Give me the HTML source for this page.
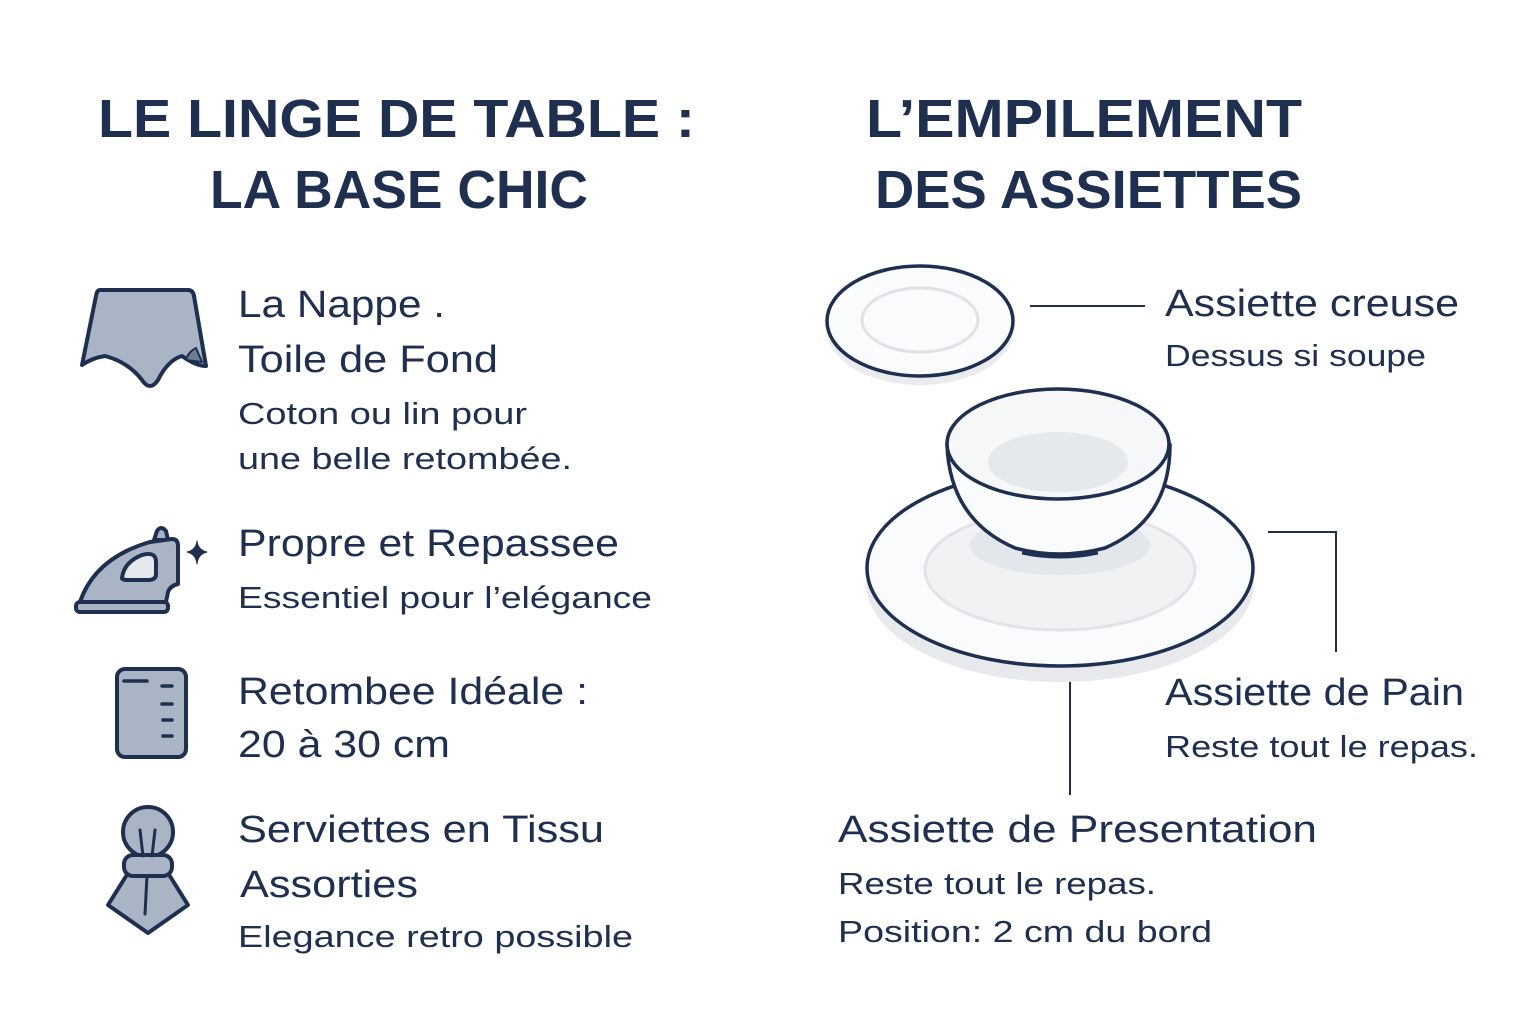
<!DOCTYPE html>
<html><head><meta charset="utf-8"><style>
html,body{margin:0;padding:0;background:#fff;}
svg{display:block;}
text{font-family:"Liberation Sans","DejaVu Sans",sans-serif;fill:#1e2f4f;}
.t{font-size:54px;font-weight:bold;}
.h{font-size:38px;}
.d{font-size:31px;}
</style></head><body>
<svg width="1536" height="1024" viewBox="0 0 1536 1024" xmlns="http://www.w3.org/2000/svg">
<rect width="1536" height="1024" fill="#fff"/>
<text class="t" x="98" y="137" textLength="597" lengthAdjust="spacingAndGlyphs">LE LINGE DE TABLE :</text>
<text class="t" x="210" y="208" textLength="378" lengthAdjust="spacingAndGlyphs">LA BASE CHIC</text>
<text class="t" x="866" y="137" textLength="436" lengthAdjust="spacingAndGlyphs">L’EMPILEMENT</text>
<text class="t" x="875" y="208" textLength="427" lengthAdjust="spacingAndGlyphs">DES ASSIETTES</text>

<text class="h" x="238" y="317" textLength="207" lengthAdjust="spacingAndGlyphs">La Nappe .</text>
<text class="h" x="238" y="372" textLength="260" lengthAdjust="spacingAndGlyphs">Toile de Fond</text>
<text class="d" x="238" y="424" textLength="289" lengthAdjust="spacingAndGlyphs">Coton ou lin pour</text>
<text class="d" x="238" y="469" textLength="334" lengthAdjust="spacingAndGlyphs">une belle retombée.</text>
<text class="h" x="238" y="556" textLength="381" lengthAdjust="spacingAndGlyphs">Propre et Repassee</text>
<text class="d" x="238" y="608" textLength="414" lengthAdjust="spacingAndGlyphs">Essentiel pour l’elégance</text>
<text class="h" x="238" y="704" textLength="350" lengthAdjust="spacingAndGlyphs">Retombee Idéale :</text>
<text class="h" x="238" y="757" textLength="212" lengthAdjust="spacingAndGlyphs">20 à 30 cm</text>
<text class="h" x="238" y="842" textLength="366" lengthAdjust="spacingAndGlyphs">Serviettes en Tissu</text>
<text class="h" x="240" y="897" textLength="178" lengthAdjust="spacingAndGlyphs">Assorties</text>
<text class="d" x="238" y="947" textLength="395" lengthAdjust="spacingAndGlyphs">Elegance retro possible</text>

<text class="h" x="1165" y="316" textLength="294" lengthAdjust="spacingAndGlyphs">Assiette creuse</text>
<text class="d" x="1165" y="366" textLength="261" lengthAdjust="spacingAndGlyphs">Dessus si soupe</text>
<text class="h" x="1165" y="705" textLength="299" lengthAdjust="spacingAndGlyphs">Assiette de Pain</text>
<text class="d" x="1165" y="757" textLength="313" lengthAdjust="spacingAndGlyphs">Reste tout le repas.</text>
<text class="h" x="838" y="842" textLength="479" lengthAdjust="spacingAndGlyphs">Assiette de Presentation</text>
<text class="d" x="838" y="894" textLength="318" lengthAdjust="spacingAndGlyphs">Reste tout le repas.</text>
<text class="d" x="838" y="942" textLength="374" lengthAdjust="spacingAndGlyphs">Position: 2 cm du bord</text>

<g stroke="#1e2f4f" stroke-width="2" fill="none">
<line x1="1030" y1="306" x2="1145" y2="306"/>
<polyline points="1268,532 1336,532 1336,652"/>
<line x1="1070" y1="672" x2="1070" y2="795"/>
</g>

<g fill="#a9b4c4" stroke="#1e2f4f" stroke-width="4" stroke-linejoin="round" stroke-linecap="round">
 <path d="M100,290 L188,290 Q193,290 194,296 L206,366 Q196,366 182,356 Q168,360 158,380 Q150,392 142,380 Q128,362 105,356 Q92,358 82,365 L96,296 Q97,290 100,290 Z"/>
 <path d="M196,348 Q188,352 186,360 L202,362 Z" fill="#6f7b8e" stroke-width="2"/>
 <path d="M154,540 L157,531 Q161,525 166,531 L168,540 Z"/>
 <path d="M80,602 Q95,558 150,542 L172,539 Q178,539 178,546 L178,584 Q170,586 168,592 L166,602 Z"/>
 <rect x="76" y="602" width="92" height="10" rx="4"/>
 <path d="M122,578 Q124,562 142,555 Q156,551 156,562 L156,574 Q156,580 148,580 L128,580 Q122,580 122,578 Z" fill="#e4e8ee"/>
 <path d="M197,541 Q198,550 207,552 Q198,554 197,564 Q196,554 187,552 Q196,550 197,541 Z" fill="#1e2f4f" stroke-width="1"/>
 <rect x="117" y="669" width="69" height="88" rx="8"/>
 <g stroke-width="3.5"><line x1="124" y1="681" x2="147" y2="681"/><line x1="162" y1="686" x2="172" y2="686"/><line x1="162" y1="704" x2="172" y2="704"/><line x1="163" y1="720" x2="172" y2="720"/><line x1="163" y1="736" x2="172" y2="736"/></g>
 <circle cx="148" cy="832" r="25"/>
 <path d="M128,873 L108,905 L148,933 L188,905 L168,873 Z"/>
 <rect x="124" y="855" width="48" height="21" rx="9"/>
 <g stroke-width="3"><line x1="140" y1="830" x2="143" y2="856"/><line x1="155" y1="830" x2="152" y2="856"/><line x1="147" y1="876" x2="145" y2="914"/></g>
</g>

<ellipse cx="920" cy="330" rx="93" ry="55" fill="#e9ebee"/>
<ellipse cx="920" cy="321" rx="93" ry="55" fill="#fafbfc" stroke="#1e2f4f" stroke-width="3.5"/>
<ellipse cx="920" cy="320" rx="58" ry="32" fill="none" stroke="#dfe2e6" stroke-width="3"/>
<ellipse cx="1060" cy="583" rx="194" ry="99" fill="#e7e9ec"/>
<ellipse cx="1060" cy="568" rx="193" ry="98" fill="#fafbfc" stroke="#1e2f4f" stroke-width="3.5"/>
<ellipse cx="1060" cy="570" rx="135" ry="60" fill="#f1f2f4" stroke="#e0e3e7" stroke-width="3"/>
<ellipse cx="1060" cy="545" rx="90" ry="30" fill="#e3e6ea"/>
<path d="M947,445 Q950,520 1015,548 Q1060,560 1105,548 Q1170,520 1170,445 Z" fill="#fafbfc" stroke="#1e2f4f" stroke-width="3.5"/>
<path d="M1022,553 Q1060,561 1098,553" fill="none" stroke="#1e2f4f" stroke-width="3"/>
<ellipse cx="1058" cy="444" rx="111" ry="55" fill="#f6f7f8" stroke="#1e2f4f" stroke-width="3.5"/>
<ellipse cx="1058" cy="462" rx="70" ry="30" fill="#e6e9ec"/>
</svg>
</body></html>
